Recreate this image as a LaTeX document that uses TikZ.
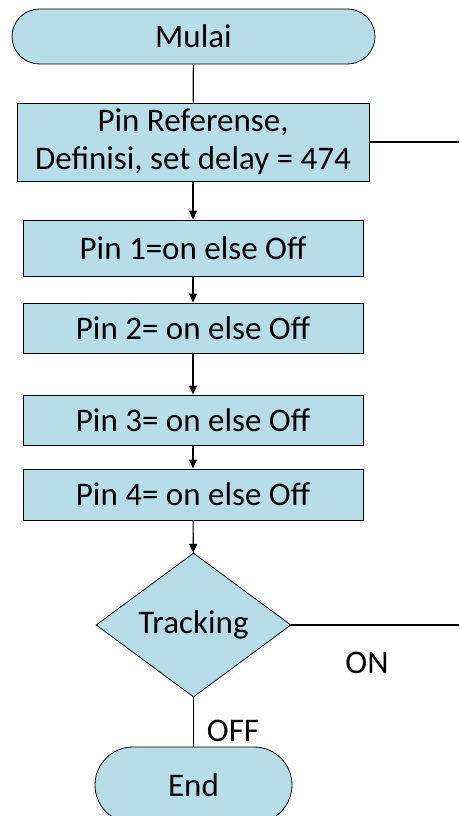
\documentclass[tikz,border=0pt]{standalone}
\usepackage{fontspec}
\setmainfont{Carlito}
\usepackage{tikz}
\usetikzlibrary{shapes.misc,shapes.geometric,arrows.meta}
\definecolor{boxblue}{RGB}{183,221,232}
\tikzset{pinbox/.style={draw,thick,fill=boxblue,minimum width=340pt,inner sep=0pt},
	ends/.style={draw,thick,fill=boxblue,rounded rectangle,inner sep=0pt},
	->-/.style={-{Triangle[length=9pt,width=8pt]}}}
\newcommand{\bigtxt}{\fontsize{33}{40}\selectfont}

\begin{document}
\begin{tikzpicture}[x=1pt,y=1pt,font=\bigtxt,line width=1.2pt]
				\clip (0,0) rectangle (459,-816);
				\node[ends,minimum width=363pt,minimum height=55pt] (mulai) at (193.5,-36.5) {Mulai};
				\node[pinbox,minimum width=352pt,minimum height=78pt,align=center] (ref) at (193,-142) {Pin Referense,\\[-2pt]Definisi, set delay = 474};
				\node[pinbox,minimum height=56pt] (pin1) at (193,-248) {Pin 1=on else Off};
				\node[pinbox,minimum height=50pt] (pin2) at (193,-328) {Pin 2= on else Off};
				\node[pinbox,minimum height=50pt] (pin3) at (193,-420) {Pin 3= on else Off};
				\node[pinbox,minimum height=51pt] (pin4) at (193,-494.5) {Pin 4= on else Off};
				\node[draw,thick,fill=boxblue,diamond,inner sep=0pt,minimum width=195pt,minimum height=144pt] (track) at (193.5,-625) {Tracking};
				\node[ends,minimum width=197pt,minimum height=76pt] (end) at (193.5,-785) {End};
				\coordinate (refout) at (459,-142);
				\coordinate (trackout) at (459,-625);
				%% connectors
				\draw (mulai) -- (ref);
				\draw[->-] (ref) -- (pin1);
				\draw[->-] (pin1) -- (pin2);
				\draw[->-] (pin2) -- (pin3);
				\draw[->-] (pin3) -- (pin4);
				\draw[->-] (pin4) -- (track);
				\draw (track) -- (end);
				\draw (ref.east) -- (refout);
				\draw (track.east) -- (trackout);
				\node (on) at (367,-663) {ON};
				\node (off) at (233,-731) {OFF};
			\end{tikzpicture}
\end{document}
